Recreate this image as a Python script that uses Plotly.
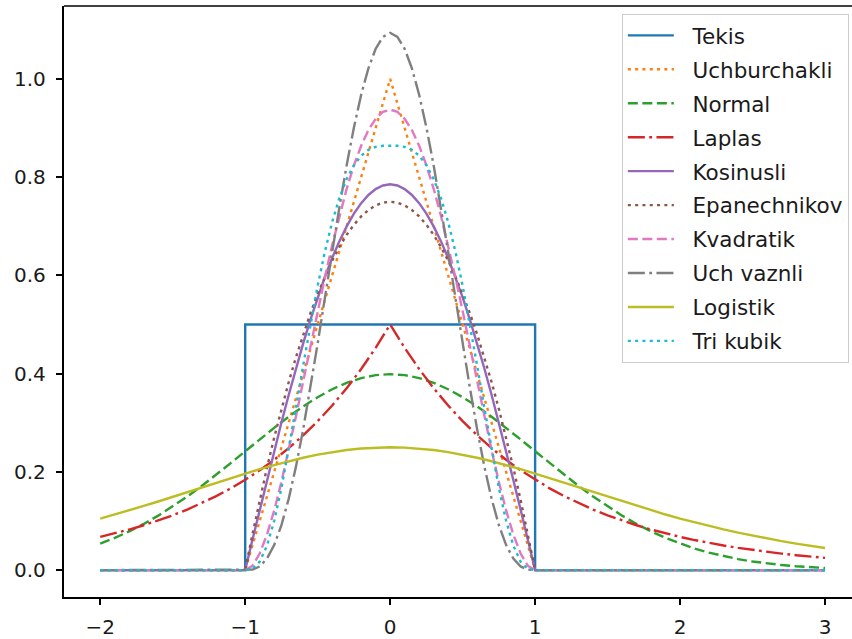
import plotly.graph_objects as go

# ---- data ----
X_TEKIS = [-2.0, -1.0, -1.0, 1.0, 1.0, 3.0]
Y_TEKIS = [0.0, 0.0, 0.5, 0.5, 0.0, 0.0]

X_TRI = [-2.0, -1.0, 0.0, 1.0, 3.0]
Y_TRI = [0.0, 0.0, 1.0, 0.0, 0.0]

X_S = [-2.0, -1.9, -1.8, -1.7, -1.6, -1.5, -1.4, -1.3, -1.2, -1.1, -1.0,
       -0.9, -0.8, -0.7, -0.6, -0.5, -0.4, -0.3, -0.2, -0.1, 0.0,
       0.1, 0.2, 0.3, 0.4, 0.5, 0.6, 0.7, 0.8, 0.9, 1.0,
       1.1, 1.2, 1.3, 1.4, 1.5, 1.6, 1.7, 1.8, 1.9, 2.0,
       2.1, 2.2, 2.3, 2.4, 2.5, 2.6, 2.7, 2.8, 2.9, 3.0]

NORMAL = [.05399, .06562, .07895, .09405, .11092, .12952, .14973, .17137, .19419, .21785, .24197,
          .26609, .28969, .31225, .33322, .35207, .36827, .38139, .39104, .39695, .39894,
          .39695, .39104, .38139, .36827, .35207, .33322, .31225, .28969, .26609, .24197,
          .21785, .19419, .17137, .14973, .12952, .11092, .09405, .07895, .06562, .05399,
          .04398, .03547, .02833, .02239, .01753, .01358, .01042, .00792, .00595, .00443]

LAPLAS = [.06767, .07478, .08265, .09134, .10095, .11157, .12330, .13627, .15060, .16644, .18394,
          .20328, .22466, .24829, .27441, .30327, .33516, .37041, .40937, .45242, .5,
          .45242, .40937, .37041, .33516, .30327, .27441, .24829, .22466, .20328, .18394,
          .16644, .15060, .13627, .12330, .11157, .10095, .09134, .08265, .07478, .06767,
          .06123, .05540, .05013, .04536, .04104, .03714, .03360, .03041, .02751, .02489]

LOGISTIK = [.10499, .11318, .12173, .13061, .13976, .14915, .15869, .16830, .17790, .18737, .19661,
            .20550, .21391, .22171, .22878, .23500, .24026, .24446, .24752, .24938, .25,
            .24938, .24752, .24446, .24026, .23500, .22878, .22171, .21391, .20550, .19661,
            .18737, .17790, .16830, .15869, .14915, .13976, .13061, .12173, .11318, .10499,
            .09719, .08980, .08282, .07625, .07010, .06436, .05901, .05404, .04943, .04518]

X_K = [-2.0, -1.0, -0.95, -0.9, -0.85, -0.8, -0.75, -0.7, -0.65, -0.6, -0.55, -0.5,
       -0.45, -0.4, -0.35, -0.3, -0.25, -0.2, -0.15, -0.1, -0.05, 0.0,
       0.05, 0.1, 0.15, 0.2, 0.25, 0.3, 0.35, 0.4, 0.45, 0.5,
       0.55, 0.6, 0.65, 0.7, 0.75, 0.8, 0.85, 0.9, 0.95, 1.0, 3.0]

KOSINUSLI = [0, 0, .0616, .1229, .1833, .2427, .3006, .3566, .4104, .4616, .5101, .5554,
             .5972, .6354, .6697, .6998, .7256, .7470, .7637, .7757, .7830, .7854,
             .7830, .7757, .7637, .7470, .7256, .6998, .6697, .6354, .5972, .5554,
             .5101, .4616, .4104, .3566, .3006, .2427, .1833, .1229, .0616, 0, 0]

EPANECHNIKOV = [0, 0, .0731, .1425, .2081, .27, .3281, .3825, .4331, .48, .5231, .5625,
                .5981, .63, .6581, .6825, .7031, .72, .7331, .7425, .7481, .75,
                .7481, .7425, .7331, .72, .7031, .6825, .6581, .63, .5981, .5625,
                .5231, .48, .4331, .3825, .3281, .27, .2081, .1425, .0731, 0, 0]

KVADRATIK = [0, 0, .0089, .0338, .0722, .1215, .1794, .2438, .3127, .3840, .4561, .5273,
             .5963, .6615, .7219, .7763, .8240, .8640, .8958, .9188, .9328, .9375,
             .9328, .9188, .8958, .8640, .8240, .7763, .7219, .6615, .5963, .5273,
             .4561, .3840, .3127, .2438, .1794, .1215, .0722, .0338, .0089, 0, 0]

UCH_VAZNLI = [0, 0, .0010, .0075, .0234, .0510, .0916, .1451, .2107, .2867, .3712, .4614,
              .5548, .6483, .7390, .8242, .9012, .9677, 1.0216, 1.0613, 1.0856, 1.0938,
              1.0856, 1.0613, 1.0216, .9677, .9012, .8242, .7390, .6483, .5548, .4614,
              .3712, .2867, .2107, .1451, .0916, .0510, .0234, .0075, .0010, 0, 0]

TRI_KUBIK = [0, 0, .0025, .0172, .0497, .1004, .1670, .2451, .3298, .4165, .5006, .5790,
             .6488, .7087, .7577, .7961, .8243, .8436, .8555, .8616, .8639, .8642,
             .8639, .8616, .8555, .8436, .8243, .7961, .7577, .7087, .6488, .5790,
             .5006, .4165, .3298, .2451, .1670, .1004, .0497, .0172, .0025, 0, 0]

NAMES = ["Tekis", "Uchburchakli", "Normal", "Laplas", "Kosinusli",
         "Epanechnikov", "Kvadratik", "Uch vaznli", "Logistik", "Tri kubik"]

X_TICKS = [-2, -1, 0, 1, 2, 3]
X_TICK_TEXT = ["\u22122", "\u22121", "0", "1", "2", "3"]
Y_TICKS = [0.0, 0.2, 0.4, 0.6, 0.8, 1.0]

# ---- styles ----
SOLID = "solid"
DOT = "3px,4.3px"
DASH = "10px,4.5px"
DASHDOT = "17px,4.4px,2.8px,4.4px"
LW = 2.4

xs_list = [X_TEKIS, X_TRI, X_S, X_S, X_K, X_K, X_K, X_K, X_S, X_K]
ys_list = [Y_TEKIS, Y_TRI, NORMAL, LAPLAS, KOSINUSLI, EPANECHNIKOV, KVADRATIK, UCH_VAZNLI, LOGISTIK, TRI_KUBIK]
colors = ["#1f77b4", "#ff7f0e", "#2ca02c", "#d62728", "#9467bd",
          "#8c564b", "#e377c2", "#7f7f7f", "#bcbd22", "#17becf"]
dashes = [SOLID, DOT, DASH, DASHDOT, SOLID, DOT, DASH, DASHDOT, SOLID, DOT]

fig = go.Figure()
for i, name in enumerate(NAMES):
    fig.add_trace(go.Scatter(
        x=xs_list[i], y=ys_list[i], mode="lines",
        name="\u00a0\u00a0" + name, legendgroup=f"g{i}",
        line=dict(color=colors[i], width=LW, dash=dashes[i]),
    ))

TICK_FONT = dict(family="DejaVu Sans", size=20, color="#1a1a1a")
LEG_FONT = dict(family="DejaVu Sans", size=21.5, color="#1a1a1a")

fig.update_layout(
    width=852, height=639,
    margin=dict(l=64, r=0, t=6, b=40),
    paper_bgcolor="white", plot_bgcolor="white",
    font=TICK_FONT,
    showlegend=True,
    legend=dict(
        x=0.996, y=0.9867, xanchor="right", yanchor="top",
        bgcolor="rgba(255,255,255,0.8)", bordercolor="#cccccc", borderwidth=1,
        font=LEG_FONT, tracegroupgap=3, itemwidth=46,
    ),
    xaxis=dict(
        range=[-2.25, 3.186], tickvals=X_TICKS, ticktext=X_TICK_TEXT,
        showgrid=False, zeroline=False, showline=True, linecolor="black", linewidth=1.5,
        ticks="outside", ticklen=6.5, tickwidth=1.5, tickcolor="black",
        ticklabelstandoff=5, tickfont=TICK_FONT,
    ),
    yaxis=dict(
        range=[-0.0547, 1.1484], tickvals=Y_TICKS, tickformat=".1f",
        showgrid=False, zeroline=False, showline=True, linecolor="black", linewidth=1.5,
        ticks="outside", ticklen=6.5, tickwidth=1.5, tickcolor="black",
        ticklabelstandoff=6, tickfont=TICK_FONT,
    ),
    shapes=[dict(type="line", xref="paper", yref="paper", x0=0, x1=1, y0=1, y1=1,
                 line=dict(color="black", width=1.5))],
)

fig.write_html("out.html")
